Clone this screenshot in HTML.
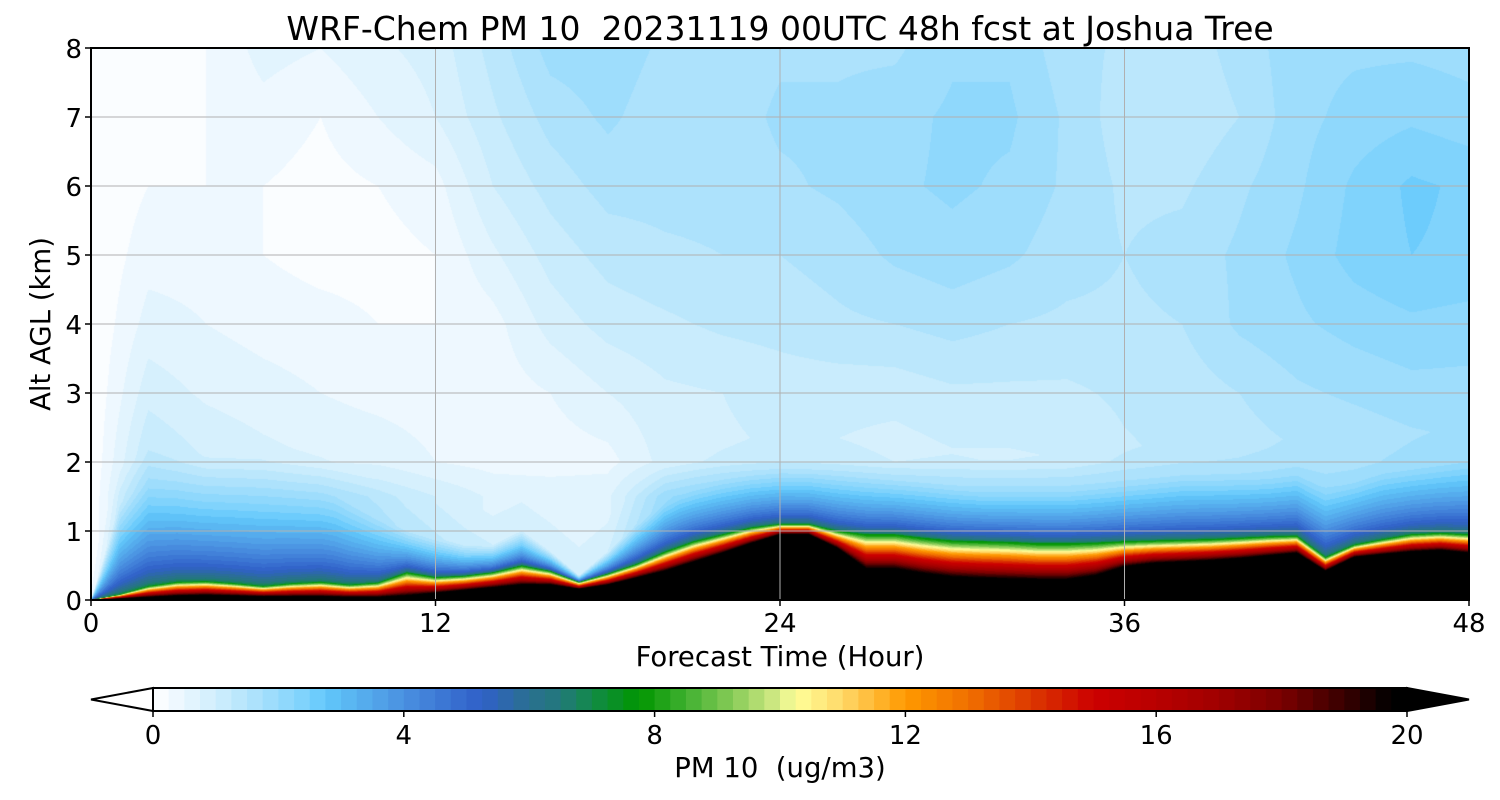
<!DOCTYPE html>
<html><head><meta charset="utf-8">
<style>
html,body{margin:0;padding:0;background:#fff;}
#wrap{position:relative;width:1500px;height:800px;font-family:"DejaVu Sans","Liberation Sans",sans-serif;}
canvas{position:absolute;left:0;top:0;}
svg{position:absolute;left:0;top:0;}
</style></head>
<body>
<div id="wrap">
<canvas id="field" width="1500" height="800"></canvas>
<svg id="ov" width="1500" height="800"></svg>
</div>
<script>
// ---- data ----
const hours = [0,1,2,3,4,5,6,7,8,9,10,11,12,13,14,15,16,17,18,19,20,21,22,23,24,25,26,27,28,29,30,31,32,33,34,35,36,37,38,39,40,41,42,43,44,45,46,47,48];
const blackTop = [0,0.02,0.04,0.06,0.07,0.06,0.05,0.05,0.05,0.04,0.04,0.06,0.1,0.14,0.18,0.22,0.22,0.16,0.22,0.32,0.42,0.55,0.68,0.82,0.95,0.95,0.75,0.45,0.45,0.38,0.33,0.31,0.3,0.29,0.29,0.35,0.48,0.53,0.55,0.57,0.6,0.64,0.68,0.42,0.62,0.66,0.7,0.72,0.68];
const greenTop = [0,0.08,0.2,0.26,0.27,0.24,0.2,0.24,0.26,0.22,0.25,0.4,0.33,0.35,0.4,0.5,0.42,0.26,0.38,0.52,0.7,0.85,0.95,1.05,1.1,1.1,1.0,0.95,0.95,0.9,0.86,0.85,0.84,0.82,0.82,0.83,0.85,0.86,0.87,0.88,0.9,0.92,0.93,0.62,0.8,0.88,0.95,0.97,0.95];
const blueTop = [0,1.4,1.7,1.7,1.6,1.7,1.8,1.7,1.6,1.4,1.2,1.0,0.9,0.8,0.8,1.0,0.7,0.35,0.7,1.1,1.4,1.6,1.75,1.85,1.9,1.9,1.85,1.8,1.75,1.7,1.65,1.6,1.6,1.6,1.6,1.65,1.7,1.75,1.8,1.8,1.8,1.8,1.85,1.6,1.7,1.85,1.9,1.95,2.0];
const upperHours = [0,2,4,6,8,10,12,14,16,18,20,22,24,26,28,30,32,34,36,38,40,42,44,46,48];
const upperAlts = [1.5,2,3,4,5,6,7,8];
const upperVals = [
 [0,0,0,0,0,0,0,0],
 [1.7,1.3,0.9,0.6,0.4,0.25,0.15,0.15],
 [1.7,1.0,0.7,0.5,0.4,0.25,0.25,0.25],
 [1.5,0.85,0.6,0.4,0.25,0.25,0.4,0.6],
 [1.5,0.75,0.5,0.35,0.15,0.15,0.25,0.5],
 [1.3,0.7,0.4,0.25,0.15,0.25,0.5,0.7],
 [1.0,0.5,0.35,0.25,0.25,0.4,0.75,0.85],
 [0.7,0.4,0.35,0.4,0.7,1.0,1.2,1.35],
 [0.7,0.35,0.5,0.85,1.1,1.35,1.6,1.85],
 [0.7,0.4,0.75,1.1,1.35,1.6,1.8,1.9],
 [1.7,0.85,0.95,1.2,1.45,1.6,1.6,1.7],
 [1.9,0.95,1.0,1.3,1.5,1.6,1.6,1.6],
 [2.0,1.0,1.1,1.35,1.5,1.7,1.8,1.7],
 [2.0,0.95,1.1,1.45,1.6,1.8,1.8,1.7],
 [1.9,0.85,1.1,1.5,1.8,1.95,1.9,1.7],
 [1.7,0.95,1.2,1.6,1.9,2.05,2.05,1.95],
 [1.7,0.95,1.2,1.5,1.8,1.95,2.05,1.95],
 [1.7,1.0,1.2,1.45,1.6,1.7,1.7,1.6],
 [1.7,1.2,1.3,1.45,1.5,1.45,1.35,1.45],
 [1.7,1.3,1.35,1.5,1.6,1.45,1.3,1.35],
 [1.7,1.35,1.5,1.8,1.8,1.7,1.5,1.6],
 [1.8,1.45,1.7,1.95,2.05,1.95,1.9,1.9],
 [1.8,1.5,1.8,2.1,2.35,2.3,2.1,1.95],
 [1.9,1.6,1.9,2.2,2.5,2.55,2.2,1.95],
 [2.0,1.7,1.9,2.15,2.45,2.45,2.1,1.9]
];
const xTicks = [0,12,24,36,48];
const yTicks = [0,1,2,3,4,5,6,7,8];
const cbTicks = [0,4,8,12,16,20];

// ---- layout ----
const PX0=91,PX1=1469,PY0=48,PY1=600;
const xS = t => PX0 + (t/48)*(PX1-PX0);
const yS = z => PY1 - (z/8)*(PY1-PY0);
const CB0=153,CB1=1407,CBY0=688,CBY1=711;
const cS = v => CB0 + (v/20)*(CB1-CB0);

const stops=[[0,'#ffffff'],[0.25,'#f4faff'],[0.5,'#e8f6fe'],[1,'#d0eefd'],[1.5,'#b4e4fc'],[2,'#96dafc'],[2.5,'#78d0fc'],[2.75,'#62c8fc'],[3,'#5cbcf4'],[4,'#4a90e0'],[5,'#3468cc'],[5.25,'#3060c8'],[6,'#2a7090'],[6.5,'#22787a'],[7,'#128a48'],[7.75,'#009600'],[8.5,'#40b030'],[9.25,'#88cc58'],[10,'#d8ec88'],[10.25,'#ffff99'],[11,'#ffd868'],[12,'#ff9900'],[13,'#f07000'],[14,'#dc3800'],[15,'#cc0000'],[16,'#b80000'],[17,'#a00000'],[18,'#7a0000'],[19,'#380000'],[19.75,'#000000'],[20,'#000000']];
function hx(h){return [parseInt(h.slice(1,3),16),parseInt(h.slice(3,5),16),parseInt(h.slice(5,7),16)];}
function cmap(v){
  if(v<=0) return [255,255,255];
  if(v>=20) return [0,0,0];
  for(let i=0;i<stops.length-1;i++){
    if(v>=stops[i][0]&&v<=stops[i+1][0]){
      const f=(v-stops[i][0])/(stops[i+1][0]-stops[i][0]);
      const a=hx(stops[i][1]),b=hx(stops[i+1][1]);
      return [0,1,2].map(k=>Math.round(a[k]+(b[k]-a[k])*f));
    }
  }
  return [0,0,0];
}
function levelColor(v){ if(v>=20) return [0,0,0]; const l=Math.floor(Math.max(v,0)/0.25); return cmap((l+0.5)*0.25); }
function interp1(xs,ys,x){
  if(x<=xs[0]) return ys[0];
  for(let i=0;i<xs.length-1;i++){ if(x<=xs[i+1]){const f=(x-xs[i])/(xs[i+1]-xs[i]);return ys[i]+(ys[i+1]-ys[i])*f;} }
  return ys[ys.length-1];
}
function upper(t,z){
  const col = upperAlts.map((a,j)=>interp1(upperHours, upperVals.map(r=>r[j]), t));
  return interp1(upperAlts, col, z);
}
function value(t,z){
  const bt=interp1(hours,blackTop,t), gt=interp1(hours,greenTop,t), ut=interp1(hours,blueTop,t);
  if(z<bt) return 20.5;
  if(z<gt){ const f=(z-bt)/Math.max(gt-bt,1e-6); return 20-12.5*f; }
  if(z<ut){ const f=(z-gt)/Math.max(ut-gt,1e-6); const top=upper(t,ut)+0.3; return 7.5+(top-7.5)*Math.pow(f,0.5); }
  return upper(t,z)+0.3*Math.max(0,1-(z-ut)/0.5);
}
// ---- draw field ----
const ctx=document.getElementById('field').getContext('2d');
const W=PX1-PX0,H=PY1-PY0;
const img=ctx.createImageData(W,H);
for(let i=0;i<W;i++){
  const t=(i+0.5)/W*48;
  for(let j=0;j<H;j++){
    const z=(H-j-0.5)/H*8;
    const c=levelColor(value(t,z));
    const p=(j*W+i)*4;
    img.data[p]=c[0];img.data[p+1]=c[1];img.data[p+2]=c[2];img.data[p+3]=255;
  }
}
ctx.putImageData(img,PX0,PY0);

// ---- overlay ----
const NS='http://www.w3.org/2000/svg';
const svg=document.getElementById('ov');
function mk(tag,attrs,parent){const e=document.createElementNS(NS,tag);for(const k in attrs)e.setAttribute(k,attrs[k]);(parent||svg).appendChild(e);return e;}
yTicks.forEach(v=>{ if(v>0&&v<8){ const l=mk('line',{x1:PX0,x2:PX1,y1:yS(v),y2:yS(v),stroke:'#b0b0b0','stroke-width':1});

 }});
xTicks.forEach(v=>{ if(v>0&&v<48){ const l=mk('line',{y1:PY0,y2:PY1,x1:xS(v),x2:xS(v),stroke:'#b0b0b0','stroke-width':1});

 }});
const frame=mk('rect',{x:PX0,y:PY0,width:PX1-PX0,height:PY1-PY0,fill:'none',stroke:'#000','stroke-width':2});


const fnt='font-family:"DejaVu Sans","Liberation Sans",sans-serif;white-space:pre;';
xTicks.forEach(v=>{
  mk('line',{x1:xS(v),x2:xS(v),y1:PY1,y2:PY1+6,stroke:'#000','stroke-width':1.5});
  const t=mk('text',{x:xS(v),y:PY1+32,'text-anchor':'middle','font-size':26,style:fnt});
  t.textContent=v;
  
  
});
yTicks.forEach(v=>{
  mk('line',{x1:PX0-6,x2:PX0,y1:yS(v),y2:yS(v),stroke:'#000','stroke-width':1.5});
  const t=mk('text',{x:PX0-9,y:yS(v)+10,'text-anchor':'end','font-size':26,style:fnt});
  t.textContent=v;
  
  
});
const title=mk('text',{x:780,y:40,'text-anchor':'middle','font-size':33,style:fnt});
title.textContent='WRF-Chem PM 10  20231119 00UTC 48h fcst at Joshua Tree';


const xl=mk('text',{x:780,y:666,'text-anchor':'middle','font-size':27.5,style:fnt});
xl.textContent='Forecast Time (Hour)';


const yl=mk('text',{x:0,y:0,'text-anchor':'middle','font-size':27.5,style:fnt,transform:'translate(50,324) rotate(-90)'});
yl.textContent='Alt AGL (km)';


const cbMid=(CBY0+CBY1)/2;
for(let l=0;l<80;l++){
  const v0=l*0.25, c=levelColor(v0+0.01);
  const r=mk('rect',{x:cS(v0),y:CBY0,width:cS(v0+0.25)-cS(v0)+0.6,height:CBY1-CBY0,fill:`rgb(${c[0]},${c[1]},${c[2]})`});
  
  
}
const triL=mk('polygon',{points:`${CB0},${CBY0} ${PX0},${cbMid} ${CB0},${CBY1}`,fill:'#fff',stroke:'#000','stroke-width':2});


const triR=mk('polygon',{points:`${CB1},${CBY0} ${PX1},${cbMid} ${CB1},${CBY1}`,fill:'#000',stroke:'#000','stroke-width':2});


const cbf=mk('rect',{x:CB0,y:CBY0,width:CB1-CB0,height:CBY1-CBY0,fill:'none',stroke:'#000','stroke-width':2});


cbTicks.forEach(v=>{
  mk('line',{x1:cS(v),x2:cS(v),y1:CBY1,y2:CBY1+6,stroke:'#000','stroke-width':1.5});
  const t=mk('text',{x:cS(v),y:CBY1+33,'text-anchor':'middle','font-size':26,style:fnt});
  t.textContent=v;
  
  
});
const cbl=mk('text',{x:780,y:777,'text-anchor':'middle','font-size':27.5,style:fnt});
cbl.textContent='PM 10  (ug/m3)';


</script>
</body></html>
